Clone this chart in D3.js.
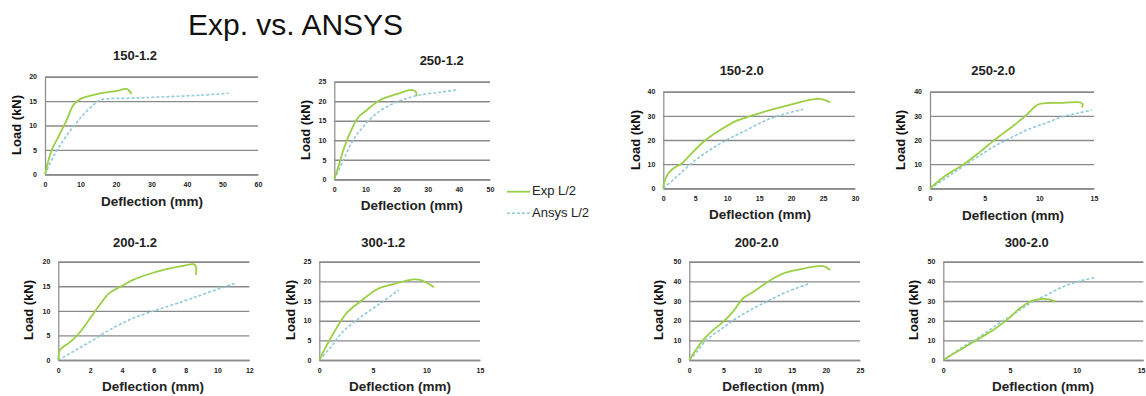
<!DOCTYPE html>
<html>
<head>
<meta charset="utf-8">
<script src="https://d3js.org/d3.v7.min.js"></script>
<style>
  html, body { margin: 0; padding: 0; background: #fff; }
  svg { display: block; }
</style>
</head>
<body>
<svg id="chart" width="1146" height="396"></svg>
<script>
// ---------------- data ----------------
const panelNames = ["150-1.2", "250-1.2", "150-2.0", "250-2.0", "200-1.2", "300-1.2", "200-2.0", "300-2.0"];
const seriesNames = ["Exp L/2", "Ansys L/2"];
const xAxisTitle = "Deflection (mm)";
const yAxisTitle = "Load (kN)";
const mainTitle = "Exp. vs. ANSYS";

// axis extents [xMax, xStep, yMax, yStep]
const axis150_12 = [60, 10, 20, 5];
const axis250_12 = [50, 10, 25, 5];
const axis150_20 = [30, 5, 40, 10];
const axis250_20 = [15, 5, 40, 10];
const axis200_12 = [12, 2, 20, 5];
const axis300_12 = [15, 5, 25, 5];
const axis200_20 = [25, 5, 50, 10];
const axis300_20 = [15, 5, 50, 10];

// [deflection mm, load kN]
const exp150_12 = [[0,0],[1.9,5.0],[3.8,7.7],[6.1,11.1],[8.0,14.2],[9.9,15.4],[11.8,15.9],[15.5,16.6],[20.2,17.1],[22.9,17.5],[24.0,16.9],[24.3,16.4]];
const ans150_12 = [[0,0],[2.35,3.6],[5.2,7.0],[8.0,9.8],[10.8,12.2],[13.6,14.2],[15.5,15.2],[24.9,15.6],[34.3,15.9],[43.7,16.2],[51.7,16.6]];

const exp250_12 = [[0,0],[1.3,3.2],[2.9,7.5],[5.0,11.8],[7.7,15.9],[10.4,17.7],[14.7,20.3],[20.0,21.8],[24.8,22.9],[26.2,22.4],[26.4,21.3]];
const ans250_12 = [[0,0],[2.9,4.9],[6.1,10.1],[9.3,13.5],[13.6,16.9],[17.9,19.0],[23.2,20.7],[27.5,21.6],[33.9,22.3],[39.3,22.9]];

const exp150_20 = [[0,0],[0.1,2.1],[0.8,6.2],[1.6,8.3],[2.9,10.3],[4.2,13.8],[6.3,19.3],[8.9,24.1],[11.5,28.0],[14.1,30.3],[16.7,32.4],[19.8,34.5],[22.9,36.6],[24.5,37.0],[26.1,35.6]];
const ans150_20 = [[0,0],[2.1,4.8],[4.7,11.0],[7.3,15.9],[9.9,20.0],[13.0,24.1],[16.2,28.3],[19.3,31.0],[21.9,32.7]];

const exp250_20 = [[0,0],[1.5,5.5],[3.0,9.7],[4.6,15.2],[6.1,20.7],[7.6,25.8],[8.8,30.3],[9.8,34.5],[10.4,35.2],[12.2,35.4],[13.7,35.6],[13.96,34.9],[13.9,33.5]];
const ans250_20 = [[0,0],[1.5,4.4],[3.0,9.0],[4.6,13.8],[6.1,17.9],[7.6,21.4],[9.1,24.6],[10.7,27.2],[12.2,29.7],[13.7,31.3],[14.8,32.4]];

const exp200_12 = [[0,0],[0.06,1.7],[0.2,2.4],[0.5,3.1],[0.9,4.1],[1.4,5.8],[2.0,8.5],[2.6,11.2],[3.2,13.6],[3.9,14.9],[4.7,16.3],[5.8,17.6],[6.8,18.5],[7.9,19.2],[8.5,19.5],[8.65,19.0],[8.65,17.3]];
const ans200_12 = [[0,0],[0.94,1.7],[2.0,3.7],[3.2,6.1],[4.7,8.5],[6.2,10.2],[7.9,12.0],[9.3,13.6],[11.1,15.6]];

const exp300_12 = [[0,0],[0.7,3.8],[1.6,8.1],[2.6,12.1],[3.8,14.8],[5.4,18.0],[6.9,19.3],[8.8,20.5],[9.4,20.4],[10.0,19.7],[10.7,18.5]];
const ans300_12 = [[0,0],[1.0,3.0],[2.2,7.2],[4.1,11.4],[5.7,14.4],[7.4,17.8]];

const exp200_20 = [[0,0],[1.1,5.9],[2.05,10.2],[3.5,15.3],[5.0,19.5],[6.4,24.6],[7.9,31.4],[9.4,34.7],[10.8,38.1],[12.3,41.5],[13.8,44.1],[16.2,46.1],[18.2,47.5],[19.6,47.8],[20.1,47.1],[20.6,45.8]];
const ans200_20 = [[0,0],[1.1,4.2],[2.5,10.2],[4.5,15.3],[6.9,21.2],[9.4,26.3],[11.8,30.5],[14.3,34.7],[17.4,38.6]];

const exp300_20 = [[0,0],[1.25,5.1],[2.5,10.2],[3.75,15.3],[4.75,20.3],[5.75,26.3],[6.6,30.0],[7.25,31.0],[8.0,30.7],[8.4,29.7]];
const ans300_20 = [[0,0],[1.5,6.8],[2.75,11.9],[4.0,17.8],[5.25,23.2],[6.5,28.8],[7.75,33.1],[9.0,37.3],[10.25,40.2],[11.4,41.9]];

// ---------------- layout ----------------
const layout = [
  {L:45,    R:258,    T:76.7, B:174.3, tx:135,   ty:56.7,  xtx:152,   xty:202,   ytx:18,    yty:125},
  {L:334.3, R:490,    T:81.7, B:179.3, tx:441.7, ty:61.7,  xtx:411.7, xty:206.7, ytx:306.7, yty:130},
  {L:663.3, R:855,    T:91.7, B:188.3, tx:741.7, ty:71.7,  xtx:760,   xty:215.7, ytx:636.7, yty:140},
  {L:930,   R:1094,   T:91.7, B:188.3, tx:993.3, ty:71.7,  xtx:1013,  xty:216,   ytx:901.7, yty:140},
  {L:58.3,  R:249.3,  T:261.7,B:360,   tx:135,   ty:243.3, xtx:153,   xty:387.3, ytx:30,    yty:310},
  {L:319.3, R:480,    T:261.7,B:360,   tx:383.3, ty:243.3, xtx:400,   xty:387.3, ytx:291.7, yty:310},
  {L:689.3, R:860,    T:261.7,B:360,   tx:756.7, ty:243.3, xtx:773.3, xty:387.3, ytx:660,   yty:310},
  {L:943.3, R:1143.3, T:261.7,B:360,   tx:1026.7,ty:243.3, xtx:1043,  xty:387.3, ytx:915,   yty:310}
];
const axesList = [axis150_12, axis250_12, axis150_20, axis250_20, axis200_12, axis300_12, axis200_20, axis300_20];
const expList = [exp150_12, exp250_12, exp150_20, exp250_20, exp200_12, exp300_12, exp200_20, exp300_20];
const ansList = [ans150_12, ans250_12, ans150_20, ans250_20, ans200_12, ans300_12, ans200_20, ans300_20];

const FONT = "'Liberation Sans', Arial, sans-serif";
const GRID = "#8a8a8a";
const EXP_COLOR = "#9BCF45";
const ANS_COLOR = "#8FCAD9";
const W = 1146;

const svg = d3.select("#chart");

svg.append("text")
  .attr("x", 188).attr("y", 35)
  .attr("font-family", FONT).attr("font-size", 30)
  .attr("fill", "#111")
  .text(mainTitle);

panelNames.forEach((name, i) => {
  const lo = layout[i];
  const [xMax, xStep, yMax, yStep] = axesList[i];
  const x = d3.scaleLinear().domain([0, xMax]).range([lo.L, lo.R]);
  const y = d3.scaleLinear().domain([0, yMax]).range([lo.B, lo.T]);
  const g = svg.append("g");

  // horizontal gridlines + y tick labels
  const yAxis = d3.axisLeft(y).tickValues(d3.range(0, yMax + 0.001, yStep))
    .tickSize(-(lo.R - lo.L)).tickPadding(8);
  const gy = g.append("g").attr("transform", `translate(${lo.L},0)`).call(yAxis);
  gy.select(".domain").attr("stroke", GRID).attr("stroke-width", 1.2);
  gy.selectAll(".tick line").attr("stroke", GRID).attr("stroke-width", 1.4);
  gy.selectAll(".tick text").attr("font-family", FONT).attr("font-size", 7)
    .attr("font-weight", "bold").attr("fill", "#222");

  // x axis labels
  const xAxis = d3.axisBottom(x).tickValues(d3.range(0, xMax + 0.001, xStep))
    .tickSize(0).tickPadding(8);
  const gx = g.append("g").attr("transform", `translate(0,${lo.B})`).call(xAxis);
  gx.select(".domain").attr("stroke", GRID).attr("stroke-width", 1.4);
  gx.selectAll(".tick text").attr("font-family", FONT).attr("font-size", 7)
    .attr("font-weight", "bold").attr("fill", "#222");
  // keep a label at the window's right edge inside the picture
  gx.selectAll(".tick").each(function(d) {
    if (x(d) + 5 > W) d3.select(this).select("text").attr("text-anchor", "end").attr("dx", W - 1 - x(d));
  });

  const line = d3.line().x(d => x(d[0])).y(d => y(d[1])).curve(d3.curveCatmullRom.alpha(0.5));

  g.append("path").datum(ansList[i])
    .attr("d", line).attr("fill", "none")
    .attr("stroke", ANS_COLOR).attr("stroke-width", 1.6)
    .attr("stroke-dasharray", "3,2");
  g.append("path").datum(expList[i])
    .attr("d", line).attr("fill", "none")
    .attr("stroke", EXP_COLOR).attr("stroke-width", 1.8);

  // titles
  g.append("text").attr("x", lo.tx).attr("y", lo.ty)
    .attr("text-anchor", "middle").attr("dominant-baseline", "middle")
    .attr("font-family", FONT).attr("font-size", 13).attr("font-weight", "bold")
    .attr("fill", "#222").text(name);
  g.append("text").attr("x", lo.xtx).attr("y", lo.xty)
    .attr("text-anchor", "middle").attr("dominant-baseline", "middle")
    .attr("font-family", FONT).attr("font-size", 13.5).attr("font-weight", "bold")
    .attr("fill", "#222").text(xAxisTitle);
  g.append("text")
    .attr("transform", `translate(${lo.ytx},${lo.yty}) rotate(-90)`)
    .attr("text-anchor", "middle").attr("dominant-baseline", "middle")
    .attr("font-family", FONT).attr("font-size", 13).attr("font-weight", "bold")
    .attr("fill", "#111").text(yAxisTitle);
});

// legend
const legend = svg.append("g");
const legendItems = [
  {name: seriesNames[0], color: EXP_COLOR, dash: null, y: 191.7, w: 1.8},
  {name: seriesNames[1], color: ANS_COLOR, dash: "3,2", y: 213.3, w: 1.6}
];
legendItems.forEach(it => {
  legend.append("line").attr("x1", 507).attr("x2", 530).attr("y1", it.y).attr("y2", it.y)
    .attr("stroke", it.color).attr("stroke-width", it.w)
    .attr("stroke-dasharray", it.dash);
  legend.append("text").attr("x", 532).attr("y", it.y)
    .attr("dominant-baseline", "middle")
    .attr("font-family", FONT).attr("font-size", 13).attr("fill", "#222")
    .text(it.name);
});
</script>
</body>
</html>
